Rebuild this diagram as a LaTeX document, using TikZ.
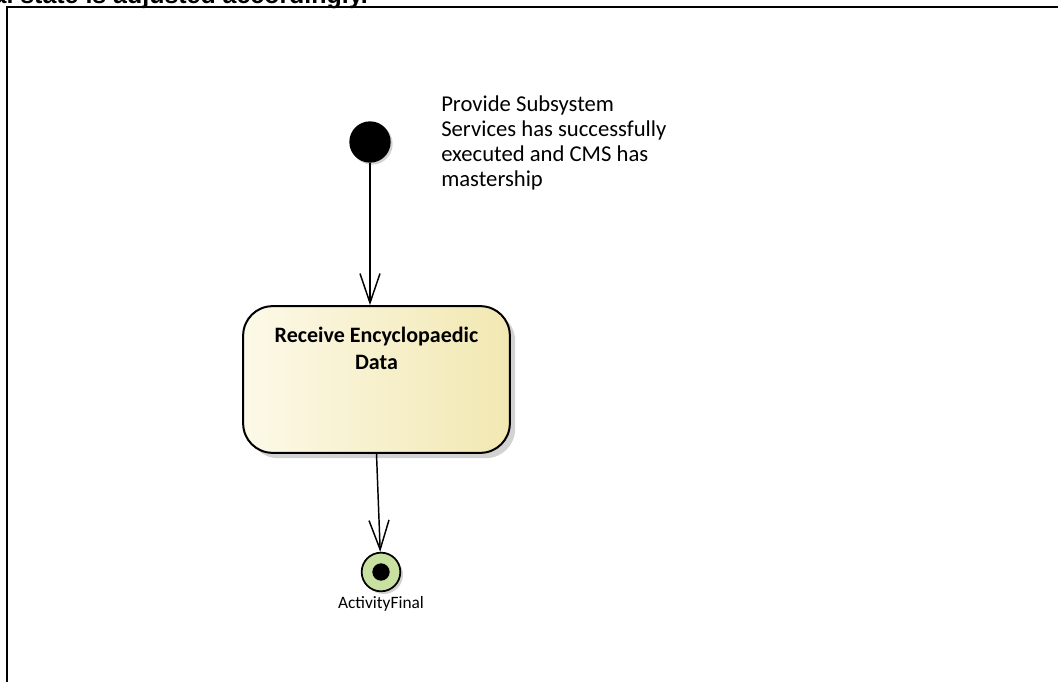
\documentclass[tikz,border=0pt]{standalone}
\usepackage{fontspec}
\setmainfont{Carlito}
\newfontfamily\arialfont{Liberation Sans}
\usetikzlibrary{arrows.meta, shadows}

\definecolor{boxleft}{HTML}{FCF9E8}
\definecolor{boxright}{HTML}{F2E8B2}
\definecolor{finalgreen}{HTML}{C8E0A0}
\definecolor{sombra}{HTML}{D2D2D2}

\tikzset{
  seta/.style={line width=1.1pt, -{Straight Barb[length=22pt, width=15pt, line width=1.1pt]}},
  acao/.style={draw, line width=1.5pt, rounded corners=22pt,
    minimum width=200pt, minimum height=110pt,
    left color=boxleft, right color=boxright,
    drop shadow={shadow xshift=4pt, shadow yshift=-4pt, fill=sombra, opacity=1}},
  inicio/.style={circle, fill=black, minimum size=31pt, inner sep=0pt,
    drop shadow={shadow xshift=1.5pt, shadow yshift=-1.5pt, fill=sombra, opacity=1}},
  fim/.style={circle, draw, line width=1.3pt, fill=finalgreen, minimum size=29pt, inner sep=0pt,
    drop shadow={shadow xshift=2pt, shadow yshift=-2pt, fill=sombra, opacity=1},
    path picture={\fill[black] (path picture bounding box.center) circle (6.5pt);}},
  texto/.style={inner sep=0pt}
}

\begin{document}
\begin{tikzpicture}[x=0.75pt, y=-0.75pt]
    \useasboundingbox (0,0) rectangle (1058,682);

    % Texto cortado em cima
    \node[anchor=base east, inner sep=0pt, font=\arialfont\bfseries\fontsize{18.7}{21}\selectfont]
      (topo) at (368,3) {al state is adjusted accordingly.};

    % Moldura
    \draw[line width=1.4pt] (1070,7) -- (7,7) -- (7,700);

    % Nos
    \node[inicio] (ini) at (370,142) {};
    \node[acao] (recv) at (376.5,379.5) {};
    \node[texto, anchor=north, align=center, font=\bfseries\fontsize{16.5}{20}\selectfont]
      (recvtxt) at (376.5,327) {Receive Encyclopaedic\\Data};
    \node[fim] (fin) at (381,572) {};
    \node[texto, anchor=north, font=\fontsize{13}{15}\selectfont] (fintxt) at (381,596) {ActivityFinal};

    % Nota
    \node[texto, anchor=north west, align=left, font=\fontsize{17}{18.75}\selectfont] (nota) at (441,95)
      {Provide Subsystem\\Services has successfully\\executed and CMS has\\mastership};

    % Setas
    \draw[seta] (ini) -- (ini |- recv.north);
    \draw[seta] (recv.south) -- (fin);
\end{tikzpicture}
\end{document}
